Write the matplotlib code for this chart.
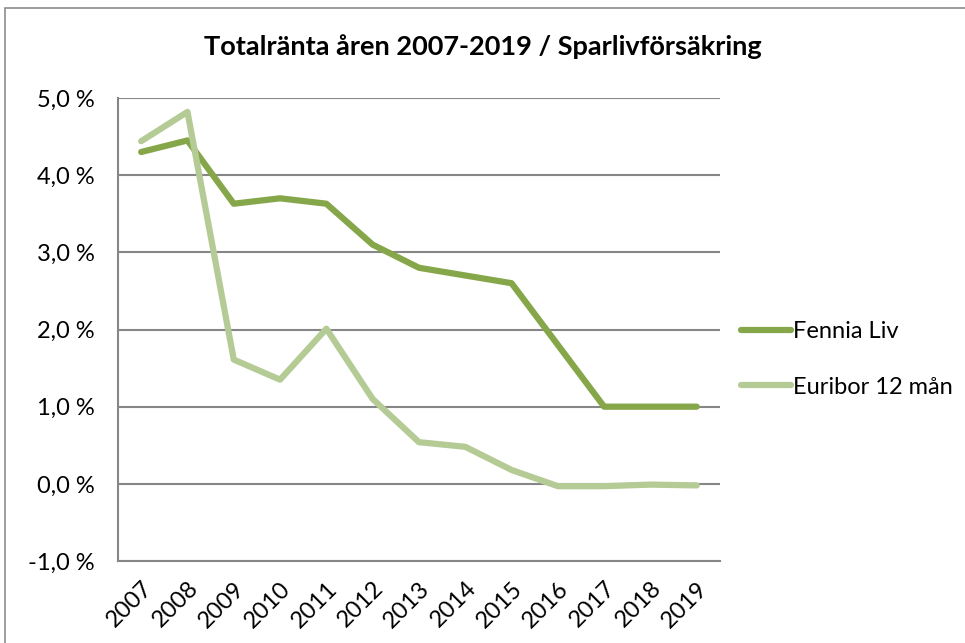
import matplotlib.pyplot as plt
from matplotlib.patches import Rectangle
from matplotlib.ticker import FuncFormatter

plt.rcParams['font.family'] = ['Lato', 'DejaVu Sans']

years = ['2007', '2008', '2009', '2010', '2011', '2012', '2013',
         '2014', '2015', '2016', '2017', '2018', '2019']
fennia = [4.3, 4.45, 3.63, 3.7, 3.63, 3.1, 2.8, 2.7, 2.6, 1.8, 1.0, 1.0, 1.0]
euribor = [4.44, 4.82, 1.61, 1.35, 2.01, 1.1, 0.54, 0.48, 0.18, -0.03, -0.03, -0.01, -0.02]

fig = plt.figure(figsize=(9.65, 6.43), dpi=100)
ax = fig.add_axes([0.1223, 0.1275, 0.6237, 0.7201])

# chart border like the excel frame
fig.patches.append(Rectangle((5 / 965, -0.05), 1.2, 1 - 8 / 643 + 0.05,
                             transform=fig.transFigure, fill=False,
                             edgecolor='#8c8c8c', linewidth=1.2))

x = list(range(len(years)))
ax.plot(x, fennia, color='#86a64a', lw=4.5, solid_capstyle='round',
        solid_joinstyle='round', label='Fennia Liv', zorder=3)
ax.plot(x, euribor, color='#b5cb95', lw=4.5, solid_capstyle='round',
        solid_joinstyle='round', label='Euribor 12 mån', zorder=3)

ax.set_xlim(-0.5, len(years) - 0.5)
ax.set_ylim(-1, 5)
ax.set_yticks([-1, 0, 1, 2, 3, 4, 5])
ax.yaxis.set_major_formatter(FuncFormatter(lambda v, p: f'{v:.1f} %'.replace('.', ',')))
ax.set_xticks(x)
ax.set_xticklabels(years, rotation=45, ha='right', rotation_mode='anchor')
ax.tick_params(axis='both', length=0, labelsize=17)
ax.tick_params(axis='y', pad=17)
ax.tick_params(axis='x', pad=12)

ax.grid(axis='y', color='#868686', lw=1.5)
ax.set_axisbelow(True)
for s in ['top', 'right']:
    ax.spines[s].set_visible(False)
ax.spines['left'].set_color('#868686')
ax.spines['bottom'].set_color('#868686')
ax.spines['left'].set_linewidth(1.5)
ax.spines['bottom'].set_linewidth(1.5)

fig.text(0.5, 1 - 47 / 643, 'Totalränta åren 2007-2019 / Sparlivförsäkring',
         ha='center', va='center', fontsize=19.5, fontweight='bold')

ax.legend(loc='center left', bbox_to_anchor=(1.0, 0.435), frameon=False,
          fontsize=17, handlelength=2.1, handletextpad=0.1, labelspacing=1.45)

fig.savefig('out.png', dpi=100)
